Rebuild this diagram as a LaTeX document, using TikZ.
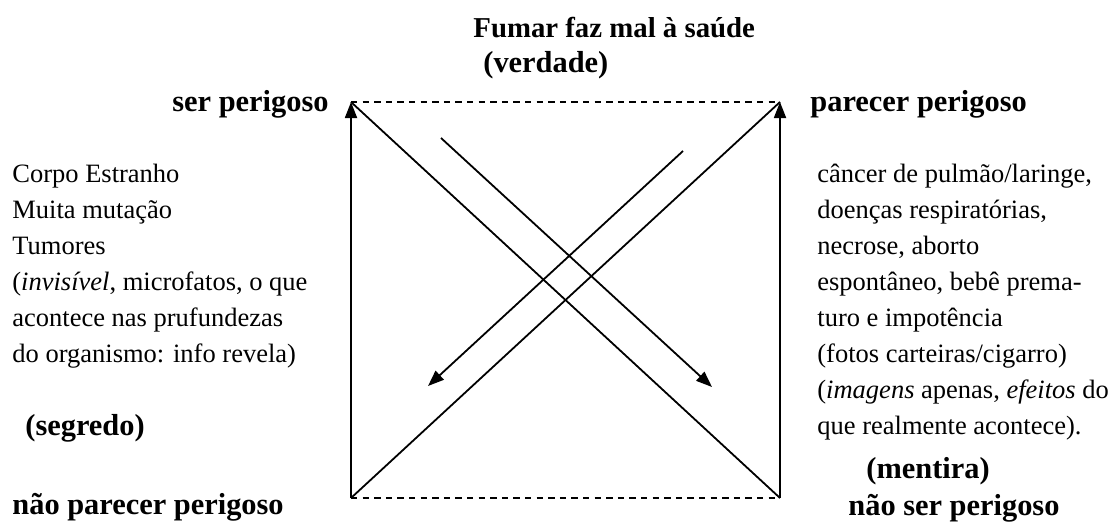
\documentclass[tikz,border=0pt]{standalone}
\usepackage{fontspec}
\setmainfont{Liberation Serif}
\usetikzlibrary{arrows.meta}

\begin{document}
\begin{tikzpicture}[
  x=0.5pt, y=-0.5pt,
  lbl/.style={font=\fontsize{15.2}{18}\selectfont\bfseries, inner sep=0pt, anchor=base west},
  txt/.style={font=\fontsize{13.25}{18}\selectfont, inner sep=0pt, anchor=base west, align=left},
  ln/.style={line width=0.9pt},
  dsh/.style={line width=0.9pt, dash pattern=on 3.2pt off 2.6pt},
  >={Triangle[length=8pt, width=6pt]}
]
\useasboundingbox (0,0) rectangle (1117,521);

% corners of the square
\coordinate (tl) at (351,102);
\coordinate (tr) at (780,102);
\coordinate (bl) at (351,498);
\coordinate (br) at (780,498);

% labels
\node[lbl, font=\fontsize{14.4}{18}\selectfont\bfseries] (fumar) at (473,37) {Fumar faz mal à saúde};
\node[lbl] (verdade) at (483,72) {(verdade)};
\node[lbl] (ser) at (172,111) {ser perigoso};
\node[lbl] (parecer) at (810,111) {parecer perigoso};
\node[lbl] (segredo) at (25,435) {(segredo)};
\node[lbl] (mentira) at (866,478) {(mentira)};
\node[lbl] (naoparecer) at (12,514) {não parecer perigoso};
\node[lbl] (naoser) at (848,515) {não ser perigoso};

% text blocks (base = last line)
\node[txt] (esq) at (12,362) {Corpo Estranho\\Muita mutação\\Tumores\\(\textit{invisível}, microfatos, o que\\acontece nas prufundezas\\do organismo: info revela)};
\node[txt] (dir) at (817,434) {câncer de pulmão/laringe,\\doenças respiratórias,\\necrose, aborto\\espontâneo, bebê prema-\\turo e impotência\\(fotos carteiras/cigarro)\\(\textit{imagens} apenas, \textit{efeitos} do\\que realmente acontece).};

% square
\draw[dsh] (tl) -- (tr);
\draw[dsh] (bl) -- (br);
\draw[ln, ->] (bl) -- (tl);
\draw[ln, ->] (br) -- (tr);
\draw[ln] (bl) -- (tr);
\draw[ln] (br) -- (tl);

% inner arrows
\coordinate (a1) at (441,138);
\coordinate (a2) at (712,387);
\coordinate (b1) at (683,151);
\coordinate (b2) at (428,386);
\draw[ln, ->] (a1) -- (a2);
\draw[ln, ->] (b1) -- (b2);
\end{tikzpicture}
\end{document}
